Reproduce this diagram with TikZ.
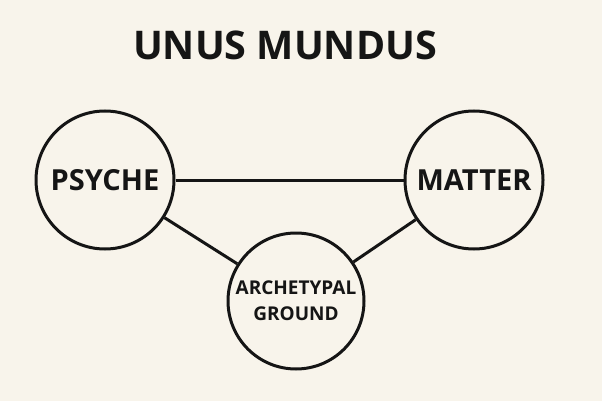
\documentclass[tikz,border=0pt]{standalone}
\usepackage{fontspec}
\setmainfont{Open Sans}
\definecolor{bg}{HTML}{F8F4EB}
\definecolor{ink}{HTML}{151515}
\begin{document}
\begin{tikzpicture}[x=1pt,y=-1pt,
  circ/.style={circle,draw=ink,line width=3pt,minimum size=138pt,inner sep=0pt,align=center,text=ink,font=\bfseries},
  conn/.style={draw=ink,line width=3pt}]
\fill[bg] (0,0) rectangle (602,401);
\useasboundingbox (0,0) rectangle (602,401);
\node[text=ink,font=\bfseries\fontsize{39.5}{40}\selectfont] (title) at (285,45) {UNUS MUNDUS};
\node[circ,font=\bfseries\fontsize{29}{30}\selectfont] (psyche) at (105,180) {PSYCHE};
\node[circ,font=\bfseries\fontsize{29}{30}\selectfont] (matter) at (474,180) {MATTER};
\node[circ,minimum size=136pt,font=\bfseries\fontsize{19}{26}\selectfont] (arch) at (296,301) {ARCHETYPAL\\GROUND};
\draw[conn] (psyche) -- (matter);
\draw[conn] (psyche) -- (arch);
\draw[conn] (matter) -- (arch);
\end{tikzpicture}
\end{document}
